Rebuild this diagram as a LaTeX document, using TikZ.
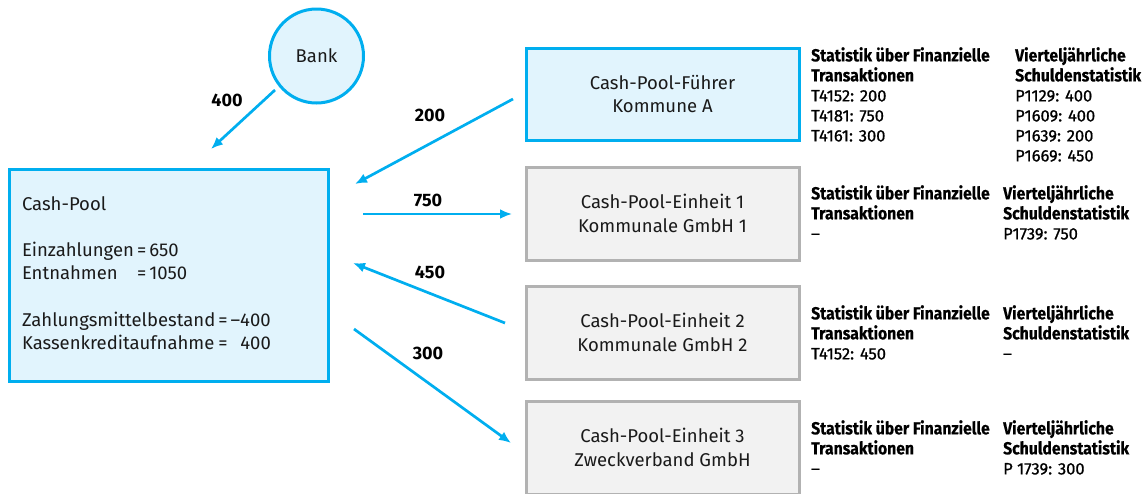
\documentclass[tikz,border=0pt]{standalone}
\usepackage{fontspec}
\setmainfont{Fira Sans}
\newfontfamily\condbold[FakeStretch=0.9,FakeBold=0.4]{Fira Sans}
\newfontfamily\condval[FakeBold=0.8]{Fira Sans}
\usetikzlibrary{arrows.meta}
\definecolor{cpblue}{HTML}{00AEEF}
\definecolor{cplight}{HTML}{E1F4FD}
\definecolor{cpgrayline}{HTML}{B2B2B2}
\definecolor{cpgrayfill}{HTML}{F2F2F2}
\definecolor{cptext}{HTML}{1A1A1A}
\newcommand\hd[1]{{\condbold\bfseries\fontsize{17.5}{20}\selectfont #1}}
\begin{document}
\begin{tikzpicture}[x=1pt,y=-1pt,
  boxtext/.style={font=\fontsize{18.5}{23.5}\selectfont, align=center, text=cptext},
  bluebox/.style={draw=cpblue, fill=cplight, line width=3pt, boxtext},
  graybox/.style={draw=cpgrayline, fill=cpgrayfill, line width=3pt, boxtext},
  unitbox/.style={minimum width=273pt, minimum height=93pt},
  flow/.style={draw=cpblue, line width=2.7pt, -{Latex[length=12pt,width=10pt]}},
  flowlbl/.style={font=\fontsize{18}{20}\selectfont\bfseries, inner sep=0pt},
  stat/.style={anchor=north west, inner sep=0pt, align=left, font=\condval\fontsize{16.5}{20}\selectfont}
]
\useasboundingbox (0,0) rectangle (1143,493);

% nodes
\node[bluebox, circle, minimum size=94pt, inner sep=0pt, font=\fontsize{18.5}{20}\selectfont] (bank) at (316.5,56) {Bank};
\node[bluebox, minimum width=319pt, minimum height=212pt, align=left, text width=293pt, inner xsep=13pt, font=\fontsize{18.5}{23}\selectfont] (pool) at (168.5,275)
  {Cash-Pool\\[23pt]
   Einzahlungen\,=\,650\\
   \leavevmode\rlap{Entnahmen}\phantom{Einzahlungen}\,=\,1050\\[24pt]
   Zahlungsmittelbestand\,=\,–400\\
   \leavevmode\rlap{Kassenkreditaufnahme}\phantom{Zahlungsmittelbestand}\,=\,\phantom{–}400};
\node[bluebox, unitbox, minimum height=92pt] (fuehrer) at (662.5,94) {Cash-Pool-Führer\\Kommune A};
\node[graybox, unitbox] (e1) at (662.5,213.5) {Cash-Pool-Einheit 1\\Kommunale GmbH 1};
\node[graybox, unitbox] (e2) at (662.5,332.5) {Cash-Pool-Einheit 2\\Kommunale GmbH 2};
\node[graybox, unitbox] (e3) at (662.5,447.5) {Cash-Pool-Einheit 3\\Zweckverband GmbH};

% statistics
\node[stat] (s1a) at (811,47) {\hd{Statistik über Finanzielle}\\\hd{Transaktionen}\\T4152: 200\\T4181: 750\\T4161: 300};
\node[stat] (s1b) at (1015,47) {\hd{Vierteljährliche}\\\hd{Schuldenstatistik}\\P1129: 400\\P1609: 400\\P1639: 200\\P1669: 450};
\node[stat] (s2a) at (811,185) {\hd{Statistik über Finanzielle}\\\hd{Transaktionen}\\–};
\node[stat] (s2b) at (1003,185) {\hd{Vierteljährliche}\\\hd{Schuldenstatistik}\\P1739: 750};
\node[stat] (s3a) at (811,305) {\hd{Statistik über Finanzielle}\\\hd{Transaktionen}\\T4152: 450};
\node[stat] (s3b) at (1003,305) {\hd{Vierteljährliche}\\\hd{Schuldenstatistik}\\–};
\node[stat] (s4a) at (811,420) {\hd{Statistik über Finanzielle}\\\hd{Transaktionen}\\–};
\node[stat] (s4b) at (1003,420) {\hd{Vierteljährliche}\\\hd{Schuldenstatistik}\\P 1739: 300};

% connector ends
\coordinate (bankout) at (275,90);
\coordinate (poolin1) at (211,149);
\coordinate (fout) at (513,99);
\coordinate (poolin2) at (355,184);
\coordinate (poolout1) at (363,214);
\coordinate (e1in) at (512,214);
\coordinate (e2out) at (505,323);
\coordinate (poolin3) at (353,263);
\coordinate (poolout2) at (354,329);
\coordinate (e3in) at (511,443);

\draw[flow] (bankout) -- (poolin1);
\draw[flow] (fout) -- (poolin2);
\draw[flow] (poolout1) -- (e1in);
\draw[flow] (e2out) -- (poolin3);
\draw[flow] (poolout2) -- (e3in);

\node[flowlbl] (l400) at (227,100) {400};
\node[flowlbl] (l200) at (430,115) {200};
\node[flowlbl] (l750) at (428,200) {750};
\node[flowlbl] (l450) at (430,272) {450};
\node[flowlbl] (l300) at (428,353) {300};
\end{tikzpicture}
\end{document}
